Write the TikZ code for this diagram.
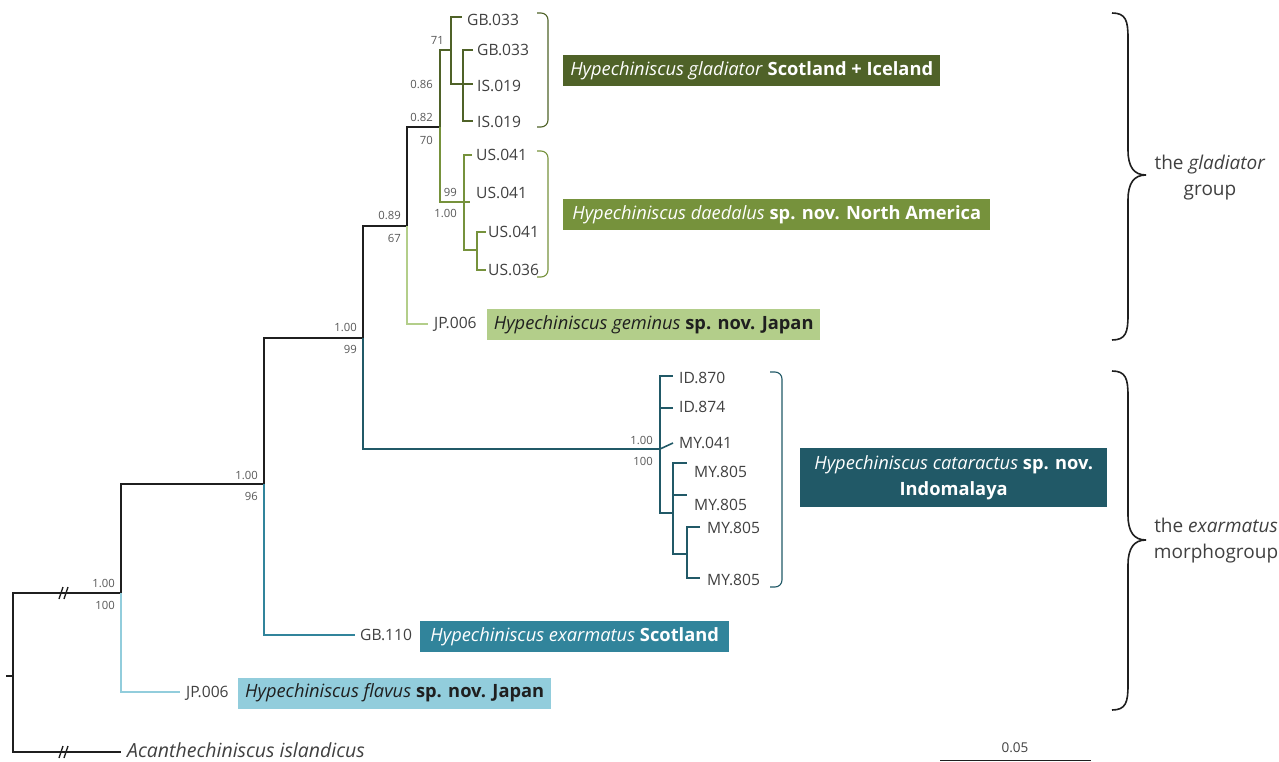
\documentclass[tikz,border=0pt]{standalone}
\usepackage{fontspec}
\setmainfont{Open Sans}
\usetikzlibrary{positioning}

\definecolor{treeblack}{HTML}{1F1F1F}
\definecolor{leafgrey}{HTML}{404040}
\definecolor{suppgrey}{HTML}{595959}
\definecolor{gladcol}{HTML}{4F6228}
\definecolor{daecol}{HTML}{76923C}
\definecolor{gemcol}{HTML}{B3CE8A}
\definecolor{catcol}{HTML}{215967}
\definecolor{exarcol}{HTML}{31849B}
\definecolor{flavcol}{HTML}{92CDDC}

\tikzset{
  branch/.style={line width=1.6pt, treeblack},
  supp/.style={anchor=east, inner sep=0pt, text=suppgrey, font=\fontsize{11.3}{12}\selectfont},
  leaf/.style={anchor=west, inner sep=0pt, text=leafgrey, font=\fontsize{15.6}{17}\selectfont},
  cladebox/.style={anchor=west, inner sep=2pt, align=center, minimum height=31pt, font=\fontsize{18.3}{26}\selectfont},
  bracket/.style={line width=1.1pt, rounded corners=7pt},
  groupbrace/.style={line width=1.6pt, treeblack}
}

\begin{document}
\begin{tikzpicture}[x=1pt,y=-1pt]
  \useasboundingbox (0,0) rectangle (1279,762);

  % internal nodes
  \coordinate (root) at (13,676);
  \coordinate (stub) at (6,676);
  \coordinate (n0) at (121,593);
  \coordinate (n1) at (264,484);
  \coordinate (n2) at (363,338);
  \coordinate (n3) at (407,226);
  \coordinate (n4) at (440,127);
  \coordinate (glad) at (451,50);
  \coordinate (gladB) at (463,84);
  \coordinate (dae) at (464,202);
  \coordinate (daeB) at (477,250);
  \coordinate (cat) at (660,449);
  \coordinate (catB) at (673,513);
  \coordinate (catC) at (687,554);

  % tips
  \coordinate (acan) at (121,752);
  \coordinate (flav) at (180,692);
  \coordinate (exar) at (355,635);
  \coordinate (gem) at (428,324);
  \coordinate (g1) at (462,17);
  \coordinate (g2) at (473,50);
  \coordinate (g3) at (473,84);
  \coordinate (g4) at (473,121);
  \coordinate (d1) at (472,155);
  \coordinate (d2) at (470,202);
  \coordinate (d3) at (486,232);
  \coordinate (d4) at (486,270);
  \coordinate (c1) at (673,376);
  \coordinate (c2) at (673,408);
  \coordinate (c3) at (673,443);
  \coordinate (c4) at (687,463);
  \coordinate (c5) at (687,495);
  \coordinate (c6) at (700,527);
  \coordinate (c7) at (700,578);

  % backbone
  \draw[branch] (stub) -- (root);
  \draw[branch] (root) |- (n0);
  \draw[branch] (root) |- (acan);
  \foreach \y in {593,752}
    {\draw[branch, line width=1.3pt] (59,\y+6) -- ++(4,-12) (64,\y+6) -- ++(4,-12);}
  \draw[branch] (n0) |- (n1);
  \draw[branch, flavcol] (n0) |- (flav);
  \draw[branch] (n1) |- (n2);
  \draw[branch, exarcol] (n1) |- (exar);
  \draw[branch] (n2) |- (n3);
  \draw[branch, catcol] (n2) |- (cat);
  \draw[branch] (n3) |- (n4);
  \draw[branch, gemcol] (n3) |- (gem);
  \draw[branch, gladcol] (n4) |- (glad);
  \draw[branch, daecol] (n4) |- (dae);

  % gladiator
  \draw[branch, gladcol] (glad) |- (g1);
  \draw[branch, gladcol] (glad) |- (gladB);
  \draw[branch, gladcol] (gladB) |- (g2);
  \draw[branch, gladcol] (gladB) -- (g3);
  \draw[branch, gladcol] (gladB) |- (g4);

  % daedalus
  \draw[branch, daecol] (dae) |- (d1);
  \draw[branch, daecol] (dae) -- (d2);
  \draw[branch, daecol] (dae) |- (daeB);
  \draw[branch, daecol] (daeB) |- (d3);
  \draw[branch, daecol] (daeB) |- (d4);

  % cataractus
  \draw[branch, catcol] (cat) |- (c1);
  \draw[branch, catcol] (cat) |- (c2);
  \draw[branch, catcol] (cat) -- (c3);
  \draw[branch, catcol] (cat) |- (catB);
  \draw[branch, catcol] (catB) |- (c4);
  \draw[branch, catcol] (catB) |- (c5);
  \draw[branch, catcol] (catB) |- (catC);
  \draw[branch, catcol] (catC) |- (c6);
  \draw[branch, catcol] (catC) |- (c7);

  % support values
  \node[supp] (s0a) at (115,583) {1.00};
  \node[supp] (s0b) at (115,605) {100};
  \node[supp] (s1a) at (258,475) {1.00};
  \node[supp] (s1b) at (258,496) {96};
  \node[supp] (s2a) at (357,327) {1.00};
  \node[supp] (s2b) at (357,349) {99};
  \node[supp] (s3a) at (401,215) {0.89};
  \node[supp] (s3b) at (401,238) {67};
  \node[supp] (s4a) at (433,117) {0.82};
  \node[supp] (s4b) at (433,140) {70};
  \node[supp] (s5a) at (444,40) {71};
  \node[supp] (s5b) at (433,84) {0.86};
  \node[supp] (s6a) at (457,192) {99};
  \node[supp] (s6b) at (457,213) {1.00};
  \node[supp] (s7a) at (653,440) {1.00};
  \node[supp] (s7b) at (653,461) {100};

  % leaf labels
  \node[leaf] (lg1) at (467,20) {GB.033};
  \node[leaf] (lg2) at (477,50) {GB.033};
  \node[leaf] (lg3) at (477,86) {IS.019};
  \node[leaf] (lg4) at (477,122) {IS.019};
  \node[leaf] (ld1) at (476,155) {US.041};
  \node[leaf] (ld2) at (476,193) {US.041};
  \node[leaf] (ld3) at (488,232) {US.041};
  \node[leaf] (ld4) at (488,270) {US.036};
  \node[leaf] (lgem) at (434,324) {JP.006};
  \node[leaf] (lc1) at (679,378) {ID.870};
  \node[leaf] (lc2) at (679,407) {ID.874};
  \node[leaf] (lc3) at (679,443) {MY.041};
  \node[leaf] (lc4) at (694,472) {MY.805};
  \node[leaf] (lc5) at (694,505) {MY.805};
  \node[leaf] (lc6) at (707,528) {MY.805};
  \node[leaf] (lc7) at (707,580) {MY.805};
  \node[leaf] (lexar) at (360,635) {GB.110};
  \node[leaf] (lflav) at (186,693) {JP.006};
  \node[leaf, font=\fontsize{19.5}{22}\selectfont\itshape] (lacan) at (127,750) {Acanthechiniscus islandicus};

  % clade brackets
  \draw[bracket, gladcol] (537,13) -- (548,13) -- (548,127) -- (537,127);
  \draw[bracket, daecol] (537,151) -- (548,151) -- (548,277) -- (537,277);
  \draw[bracket, catcol] (770,372) -- (782,372) -- (782,587) -- (770,587);

  % clade boxes
  \node[cladebox, fill=gladcol, text=white, minimum width=377pt] (bglad) at (563,71)
    {{\itshape Hypechiniscus gladiator} \textbf{Scotland + Iceland}};
  \node[cladebox, fill=daecol, text=white, minimum width=427pt] (bdae) at (563,214.5)
    {{\itshape Hypechiniscus daedalus} \textbf{sp. nov. North America}};
  \node[cladebox, fill=gemcol, text=treeblack, minimum width=333pt] (bgem) at (487,324.5)
    {{\itshape Hypechiniscus geminus} \textbf{sp. nov. Japan}};
  \node[cladebox, fill=catcol, text=white, minimum width=307pt, minimum height=59pt] (bcat) at (800,477.5)
    {{\itshape Hypechiniscus cataractus} \textbf{sp. nov.}\\\textbf{Indomalaya}};
  \node[cladebox, fill=exarcol, text=white, minimum width=309pt] (bexar) at (420,636.5)
    {{\itshape Hypechiniscus exarmatus} \textbf{Scotland}};
  \node[cladebox, fill=flavcol, text=treeblack, minimum width=313pt] (bflav) at (238,693)
    {{\itshape Hypechiniscus flavus} \textbf{sp. nov. Japan}};

  % group braces
  \foreach \ya/\ym/\yb in {13/175/340, 371/540/710}
    {\draw[groupbrace] (1112,\ya) .. controls (1126,\ya) and (1128,\ya+8) .. (1128,\ya+25)
       -- (1128,\ym-25) .. controls (1128,\ym-8) and (1134,\ym) .. (1146,\ym)
       .. controls (1134,\ym) and (1128,\ym+8) .. (1128,\ym+25)
       -- (1128,\yb-25) .. controls (1128,\yb-8) and (1126,\yb) .. (1112,\yb);}
  \node[align=center, text=leafgrey, font=\fontsize{19}{26}\selectfont] (ggrp) at (1210,178)
    {the \textit{gladiator}\\group};
  \node[align=center, text=leafgrey, font=\fontsize{19}{26}\selectfont] (egrp) at (1216,541)
    {the \textit{exarmatus}\\morphogroup};

  % scale bar
  \coordinate (sbl) at (940,760.5);
  \coordinate (sbr) at (1091,760.5);
  \draw[line width=1.3pt, treeblack] (sbl) -- (sbr);
  \node[text=leafgrey, font=\fontsize{13.5}{15}\selectfont] (sblab) at (1015,748) {0.05};
\end{tikzpicture}
\end{document}
